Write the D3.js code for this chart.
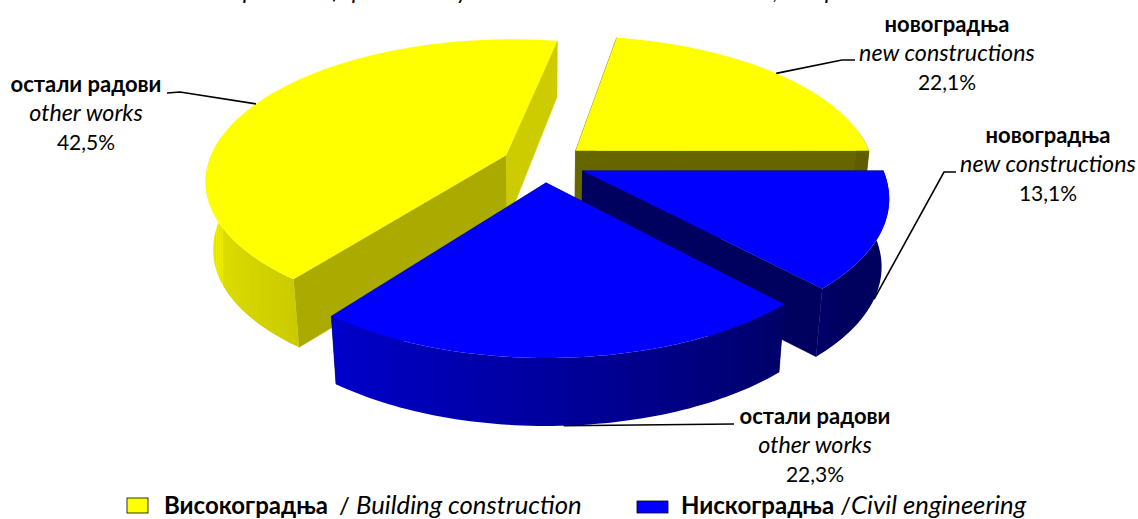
<!DOCTYPE html>
<html><head><meta charset="utf-8">
<script src="https://cdn.jsdelivr.net/npm/d3@7/dist/d3.min.js"></script>
<style>html,body{margin:0;padding:0;background:#fff;overflow:hidden}svg{display:block}text{font-family:Lato,"Open Sans",sans-serif;fill:#000}</style>
</head><body><svg id="c" width="1138" height="519"><defs id="defs"></defs></svg>
<script>
// data
const labelsBold = ["новоградња","новоградња","остали радови","остали радови"];
const labelsItalic = ["new constructions","new constructions","other works","other works"];
const values = [22.1,13.1,22.3,42.5];
const groups = [0,1,1,0];
const legendBold = ["Високоградња","Нискоградња"];
const legendItalic = [" / "," /"];
const legendEn = ["Building construction","Civil engineering"];
const titleParts = ["Structure in","percent of","paid works","by the main sectors in construction",", in","percent"];

// style / layout
const titleX = [130,243,352,445,773,825];
const topColor = ["#ffff00","#0000ff"];
const cfg={cx:544,cy:163,R:298,Ry:138,persp:5.9,explode:0.14,start:10.4};
const labelPos=[{x:947,y:32,el:[[842,60],[855,60]]},{x:1048,y:143,el:[[944,172],[956,172]]},{x:815,y:424,el:[[734,424]]},{x:86,y:92,el:[[180,92],[167,93]]}];
const order=[3,0,1,2];
const cutShade=[{end:.4,start:.4},{end:.37,start:.37},{end:.37,start:.37},{end:.8,start:.667}];
const rimShade=d3.scaleLinear().domain([130,180,218,270,360]).range([.37,.62,.8,.95,.95]).clamp(true);
const shade=(g,k)=>{const c=d3.rgb(topColor[g]);return d3.rgb(c.r*k,c.g*k,c.b*k).formatHex();};

const pie=d3.pie().sort(null).startAngle(cfg.start*Math.PI/180).endAngle((cfg.start+360)*Math.PI/180);
const arcs=pie(values);
function proj(m,a,t,h){
  const mx=cfg.explode*Math.sin(m)+t*Math.sin(a), mz=cfg.explode*Math.cos(m)+t*Math.cos(a);
  const s=cfg.persp/(cfg.persp+mz);
  const depth=mz<0?68:68-11.5*mz;
  return [cfg.cx+cfg.R*mx*s*(1-0.022*h), cfg.cy-cfg.Ry*mz*s+h*depth];
}
const line=d3.line();
const svg=d3.select("#c"), defs=d3.select("#defs");
const stepA=Math.PI/180*1.2;
order.forEach(i=>{
  const d=arcs[i],m=(d.startAngle+d.endAngle)/2,g=groups[i];
  const G=svg.append("g");
  const n=Math.ceil((d.endAngle-d.startAngle)/stepA);
  const ang=d3.range(n+1).map(k=>d.startAngle+(d.endAngle-d.startAngle)*k/n);
  // cut walls
  const walls=[{a:d.startAngle,k:cutShade[i].start},{a:d.endAngle,k:cutShade[i].end}];
  G.selectAll("path.cut").data(walls).join("path").attr("class","cut")
    .attr("d",w=>line([proj(m,0,0,0),proj(m,w.a,1,0),proj(m,w.a,1,1),proj(m,0,0,1)])+"Z")
    .attr("fill",w=>shade(g,w.k)).attr("stroke",w=>shade(g,w.k)).attr("stroke-width",.5);
  // outer wall: only the part facing the viewer, one path with a gradient along x
  const vis=ang.filter(a=>Math.cos(a)<0.15);
  if(vis.length>1){
    const xs=vis.map(a=>proj(m,a,1,0)[0]);
    const x0=d3.min(xs),x1=d3.max(xs);
    const gr=defs.append("linearGradient").attr("id","rim"+i).attr("gradientUnits","userSpaceOnUse")
      .attr("x1",x0).attr("x2",x1).attr("y1",0).attr("y2",0);
    const stops=vis.map((a,j)=>({o:(xs[j]-x0)/(x1-x0||1),c:shade(g,rimShade(a*180/Math.PI))})).sort((p,q)=>p.o-q.o);
    gr.selectAll("stop").data(stops).join("stop").attr("offset",s=>s.o).attr("stop-color",s=>s.c);
    G.append("path").attr("class","rim")
      .attr("d",line([...vis.map(a=>proj(m,a,1,0)),...vis.slice().reverse().map(a=>proj(m,a,1,1))])+"Z")
      .attr("fill","url(#rim"+i+")");
  }
  // top face
  G.append("path").attr("d",line([proj(m,0,0,0),...ang.map(a=>proj(m,a,1,0))])+"Z").attr("fill",topColor[g]);
});
// leaders + labels
const fmt=v=>d3.format(".1f")(v).replace(".",",")+"%";
arcs.forEach((d,i)=>{
  const m=(d.startAngle+d.endAngle)/2,near=Math.cos(m)<0?1:0;
  const p=labelPos[i];
  svg.append("path").attr("d",line([proj(m,m,1,near),...p.el])).attr("fill","none").attr("stroke","#000").attr("stroke-width",1.6);
  const T=svg.append("g").attr("text-anchor","middle");
  T.append("text").attr("x",p.x).attr("y",p.y).attr("font-size",22).attr("font-weight",700).text(labelsBold[i]);
  T.append("text").attr("x",p.x).attr("y",p.y+28.5).attr("font-size",23.3).attr("font-style","italic").text(labelsItalic[i]);
  T.append("text").attr("x",p.x).attr("y",p.y+57.5).attr("font-size",21).text(fmt(values[i]));
});
// legend
const lg=[{x:127,w:21,y:498,h:15,t:164,base:514,sl:5},{x:637,w:31,y:501,h:12,t:681,base:514,sl:0}];
lg.forEach((l,i)=>{
  svg.append("rect").attr("x",l.x).attr("y",l.y).attr("width",l.w).attr("height",l.h).attr("fill",topColor[i]).attr("stroke","#000").attr("stroke-width",.8);
  const t=svg.append("text").attr("x",l.t).attr("y",l.base).attr("xml:space","preserve");
  t.append("tspan").attr("font-size",24).attr("font-weight",700).text(legendBold[i]);
  t.append("tspan").attr("font-size",24).attr("dx",l.sl).text(legendItalic[i]);
  t.append("tspan").attr("font-size",25.7).attr("font-style","italic").text(legendEn[i]);
});
const tt=svg.append("text").attr("y",-1).attr("font-size",23).attr("font-style","italic");
tt.selectAll("tspan").data(titleParts).join("tspan").attr("x",(d,i)=>titleX[i]).text(d=>d);
</script></body></html>
